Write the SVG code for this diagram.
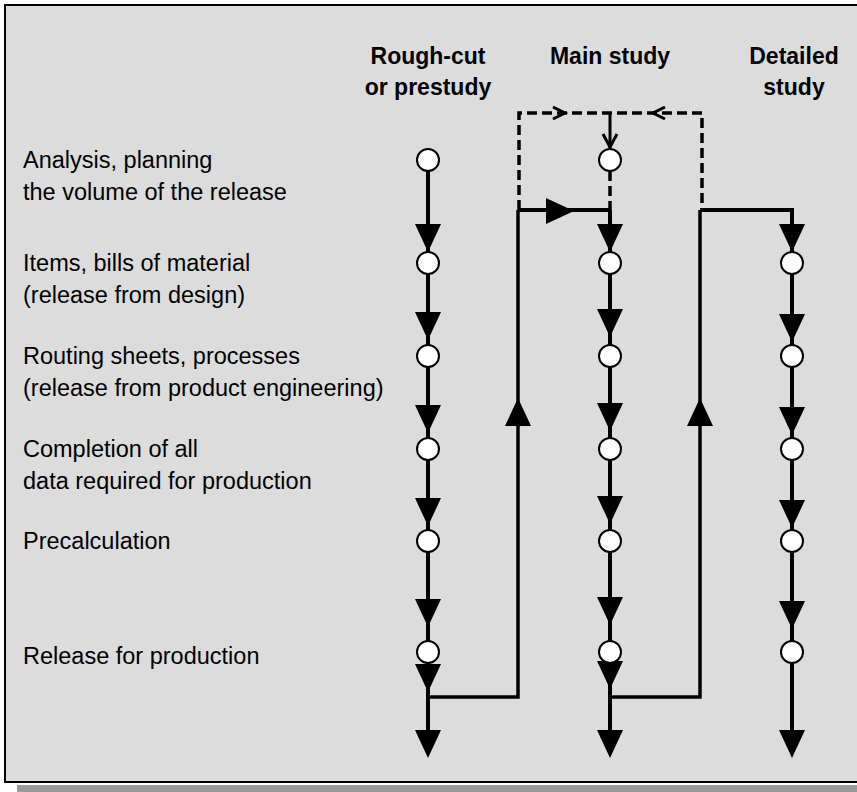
<svg xmlns="http://www.w3.org/2000/svg" xmlns:xlink="http://www.w3.org/1999/xlink" width="857" height="792" viewBox="0 0 857 792">
<style>
.lbl{font-family:"Liberation Sans",Arial,sans-serif;font-size:23.5px;fill:#000}
.hdr{font-family:"Liberation Sans",Arial,sans-serif;font-size:23px;font-weight:bold;fill:#000;text-anchor:middle}
.node{fill:#fff;stroke:#000;stroke-width:2}
.flow{fill:none;stroke:#000;stroke-width:4}
.ret{fill:none;stroke:#000;stroke-width:3.5}
.dash{fill:none;stroke:#000;stroke-width:3.5;stroke-dasharray:10 5}
.open{fill:none;stroke:#000;stroke-width:3}
</style>
<defs>
<path id="tri" d="M-13,-28 L13,-28 L0,0 Z" fill="#000"/>
</defs>
<rect width="857" height="792" fill="#fff"/>
<rect x="17" y="785" width="850" height="10" fill="#999"/>
<rect x="5" y="5" width="870" height="777" fill="#dcdcdc" stroke="#000" stroke-width="2"/>

<g id="headers">
<text class="hdr" x="428" y="64">Rough-cut</text>
<text class="hdr" x="428" y="95">or prestudy</text>
<text class="hdr" x="610" y="64">Main study</text>
<text class="hdr" x="794" y="64">Detailed</text>
<text class="hdr" x="794" y="95">study</text>
</g>

<g id="labels">
<text class="lbl" x="23" y="168">Analysis, planning</text>
<text class="lbl" x="23" y="200">the volume of the release</text>
<text class="lbl" x="23" y="271">Items, bills of material</text>
<text class="lbl" x="23" y="303">(release from design)</text>
<text class="lbl" x="23" y="364">Routing sheets, processes</text>
<text class="lbl" x="23" y="396">(release from product engineering)</text>
<text class="lbl" x="23" y="457">Completion of all</text>
<text class="lbl" x="23" y="489">data required for production</text>
<text class="lbl" x="23" y="549">Precalculation</text>
<text class="lbl" x="23" y="664">Release for production</text>
</g>

<g id="connectors">
<!-- main vertical flows -->
<line class="flow" x1="428" y1="160" x2="428" y2="745"/>
<line class="flow" x1="610" y1="210" x2="610" y2="745"/>
<polyline class="flow" points="700,210 792,210 792,745"/>
<polyline class="flow" points="518,210 610,210"/>
<!-- return paths -->
<polyline class="ret" points="428,697 518,697 518,210"/>
<polyline class="ret" points="610,697 700,697 700,210"/>
<!-- dashed feedback -->
<polyline class="dash" points="519,210 519,113 702,113 702,210"/>
<line class="dash" x1="610" y1="171" x2="610" y2="210"/>
<line class="open" x1="610" y1="113" x2="610" y2="148"/>
<polyline class="open" points="603,134 610,147 617,134"/>
<polyline class="open" points="553,107 565,113 553,119"/>
<polyline class="open" points="665,107 653,113 665,119"/>
<!-- filled arrowheads -->
<use xlink:href="#tri" transform="translate(574,211) rotate(-90)"/>
<use xlink:href="#tri" transform="translate(518,398) rotate(180)"/>
<use xlink:href="#tri" transform="translate(700,398) rotate(180)"/>

<use xlink:href="#tri" transform="translate(428,252)"/>
<use xlink:href="#tri" transform="translate(428,340)"/>
<use xlink:href="#tri" transform="translate(428,433)"/>
<use xlink:href="#tri" transform="translate(428,526)"/>
<use xlink:href="#tri" transform="translate(428,627)"/>
<use xlink:href="#tri" transform="translate(428,692)"/>
<use xlink:href="#tri" transform="translate(428,758)"/>

<use xlink:href="#tri" transform="translate(610,252)"/>
<use xlink:href="#tri" transform="translate(610,337)"/>
<use xlink:href="#tri" transform="translate(610,431)"/>
<use xlink:href="#tri" transform="translate(610,524)"/>
<use xlink:href="#tri" transform="translate(610,625)"/>
<use xlink:href="#tri" transform="translate(610,689)"/>
<use xlink:href="#tri" transform="translate(610,758)"/>

<use xlink:href="#tri" transform="translate(792,252)"/>
<use xlink:href="#tri" transform="translate(792,342)"/>
<use xlink:href="#tri" transform="translate(792,435)"/>
<use xlink:href="#tri" transform="translate(792,528)"/>
<use xlink:href="#tri" transform="translate(792,629)"/>
<use xlink:href="#tri" transform="translate(792,758)"/>
</g>

<g id="nodes-rough">
<circle class="node" cx="428" cy="160" r="11"/>
<circle class="node" cx="428" cy="263" r="11"/>
<circle class="node" cx="428" cy="356" r="11"/>
<circle class="node" cx="428" cy="449" r="11"/>
<circle class="node" cx="428" cy="541" r="11"/>
<circle class="node" cx="428" cy="652" r="11"/>
</g>
<g id="nodes-main">
<circle class="node" cx="610" cy="160" r="11"/>
<circle class="node" cx="610" cy="263" r="11"/>
<circle class="node" cx="610" cy="356" r="11"/>
<circle class="node" cx="610" cy="449" r="11"/>
<circle class="node" cx="610" cy="541" r="11"/>
<circle class="node" cx="610" cy="652" r="11"/>
</g>
<g id="nodes-detailed">
<circle class="node" cx="792" cy="263" r="11"/>
<circle class="node" cx="792" cy="356" r="11"/>
<circle class="node" cx="792" cy="449" r="11"/>
<circle class="node" cx="792" cy="541" r="11"/>
<circle class="node" cx="792" cy="652" r="11"/>
</g>
</svg>
